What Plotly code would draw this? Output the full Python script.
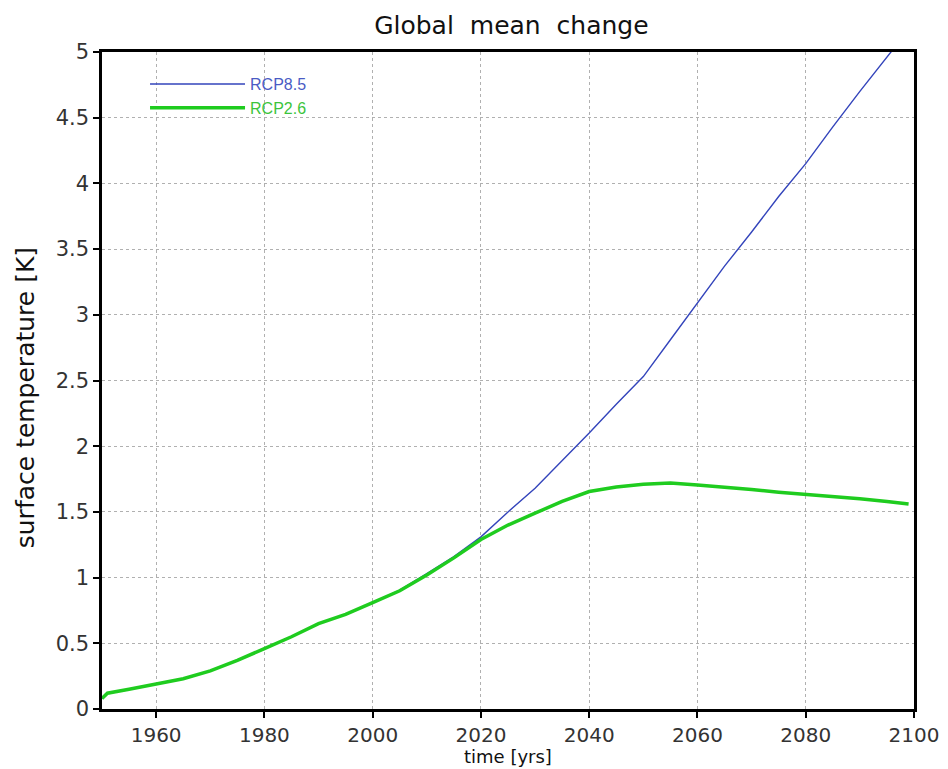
import plotly.graph_objects as go

# Years and values
years_26 = [1950, 1951, 1955, 1960, 1965, 1970, 1975, 1980, 1985, 1990, 1995, 2000,
            2005, 2010, 2015, 2020, 2025, 2030, 2035, 2040, 2045, 2050, 2055, 2060,
            2065, 2070, 2075, 2080, 2085, 2090, 2095, 2099]
rcp26 = [0.08, 0.12, 0.15, 0.19, 0.23, 0.29, 0.37, 0.46, 0.55, 0.65, 0.72, 0.81,
         0.90, 1.02, 1.15, 1.29, 1.40, 1.49, 1.58, 1.655, 1.69, 1.71, 1.72, 1.705,
         1.69, 1.67, 1.65, 1.635, 1.62, 1.60, 1.58, 1.56]

years_85 = [1950, 1951, 1955, 1960, 1965, 1970, 1975, 1980, 1985, 1990, 1995, 2000,
            2005, 2010, 2015, 2020, 2025, 2030, 2035, 2040, 2045, 2050, 2055, 2060,
            2065, 2070, 2075, 2080, 2085, 2090, 2095, 2099]
rcp85 = [0.08, 0.12, 0.15, 0.19, 0.23, 0.29, 0.37, 0.46, 0.55, 0.65, 0.72, 0.81,
         0.905, 1.03, 1.16, 1.31, 1.50, 1.68, 1.89, 2.10, 2.32, 2.53, 2.81, 3.09,
         3.37, 3.63, 3.90, 4.15, 4.43, 4.70, 4.96, 5.17]

x_ticks = [1960, 1980, 2000, 2020, 2040, 2060, 2080, 2100]
y_ticks = [0, 0.5, 1, 1.5, 2, 2.5, 3, 3.5, 4, 4.5, 5]
y_labels = ["0", "0.5", "1", "1.5", "2", "2.5", "3", "3.5", "4", "4.5", "5"]

title_text = "Global\u00a0 mean\u00a0 change"
x_title = "time [yrs]"
y_title = "surface temperature [K]"

fig = go.Figure()
fig.add_trace(go.Scatter(x=years_85, y=rcp85, mode="lines",
                         name="<span style='color:#4a5bc4'>RCP8.5</span>",
                         line=dict(color="#3344bb", width=1.4)))
fig.add_trace(go.Scatter(x=years_26, y=rcp26, mode="lines",
                         name="<span style='color:#3cc43c'>RCP2.6</span>",
                         line=dict(color="#1fcc1f", width=3.5)))

common = dict(ticks="outside", ticklen=6, tickwidth=1.5, tickcolor="black",
              showline=True, linecolor="black", linewidth=2.5, mirror=True,
              showgrid=True, gridcolor="#b0b0b0", griddash="dot", gridwidth=1,
              zeroline=False, automargin=False)

# page body has an 8px margin, so the figure is shifted by 8px
fig.update_layout(
    width=940, height=761,
    margin=dict(l=94, r=34, t=44, b=60),
    paper_bgcolor="white", plot_bgcolor="white",
    title=dict(text=title_text, x=0.5355, xanchor="center",
               y=0.977, yanchor="middle",
               font=dict(family="DejaVu Sans", size=25, color="#111")),
    showlegend=True,
    legend=dict(x=0.053, y=0.977, xanchor="left", yanchor="top",
                bgcolor="rgba(0,0,0,0)", borderwidth=0,
                itemwidth=95, tracegroupgap=0,
                font=dict(family="Liberation Sans", size=16)),
    xaxis=dict(range=[1950, 2100], tickvals=x_ticks,
               tickfont=dict(family="DejaVu Sans", size=20, color="#333"),
               **common),
    yaxis=dict(range=[0, 5], tickvals=y_ticks, ticktext=y_labels,
               tickfont=dict(family="DejaVu Sans", size=21, color="#333"),
               **common),
    annotations=[
        dict(text=x_title, xref="paper", yref="paper", x=0.5, y=-0.0725,
             xanchor="center", yanchor="middle", showarrow=False,
             font=dict(family="DejaVu Sans", size=18, color="#111")),
        dict(text=y_title, xref="paper", yref="paper", x=-0.0948, y=0.473,
             xanchor="center", yanchor="middle", showarrow=False, textangle=-90,
             font=dict(family="DejaVu Sans", size=25, color="#111")),
    ],
)

fig.write_html("out.html")
